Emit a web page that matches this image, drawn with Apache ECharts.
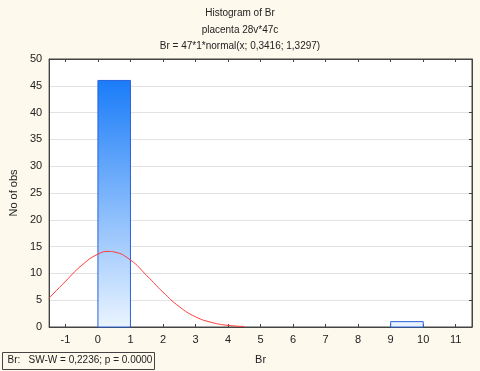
<!DOCTYPE html>
<html>
<head>
<meta charset="utf-8">
<script src="https://cdn.jsdelivr.net/npm/echarts@6/dist/echarts.min.js"></script>
<style>
  html, body { margin: 0; padding: 0; background: #fdf9ec; }
  #main { width: 480px; height: 371px; }
</style>
</head>
<body>
<div id="main"></div>
<script>
// histogram bins: [from, to, count]
const binFrom = [0, 9];
const binTo = [1, 10];
const binCount = [46, 1];

// fitted normal curve
const curveX = [-1.5, -1, -0.5, 0, 0.34, 0.5, 1, 1.5, 2, 2.5, 3, 3.5, 4, 4.5];
const curveY = [5.4, 8.5, 11.5, 13.6, 14.1, 14.0, 12.5, 9.6, 6.5, 3.8, 1.9, 0.85, 0.3, 0.1];

const titleLines = ['Histogram of Br', 'placenta 28v*47c', 'Br = 47*1*normal(x; 0,3416; 1,3297)'];

const font = 'Liberation Sans, Arial, sans-serif';
let myChart = echarts.init(document.getElementById('main'));

const bins = binFrom.map((f, i) => [f, binTo[i], binCount[i]]);
const curve = curveX.map((x, i) => [x, curveY[i]]);

const barFill = new echarts.graphic.LinearGradient(0, 80, 0, 327, [
  { offset: 0, color: '#1a7cf8' },
  { offset: 1, color: '#eaf4ff' }
], true);

const intLabel = v => (Math.abs(v - Math.round(v)) < 1e-6 ? String(Math.round(v)) : '');

let option = {
  backgroundColor: '#fdf9ec',
  animation: false,
  title: {
    text: titleLines.join('\n'),
    left: 'center',
    top: 0,
    textStyle: { fontFamily: font, fontSize: 10, fontWeight: 'normal', color: '#222', lineHeight: 16.5 }
  },
  grid: {
    left: 38, right: 8, top: 59, bottom: 44,
    show: true, backgroundColor: '#fff', borderColor: '#444', borderWidth: 1
  },
  xAxis: [
    {
      type: 'value', min: -1.5, max: 11.5, splitNumber: 13,
      name: 'Br', nameLocation: 'middle', nameGap: 27,
      nameTextStyle: { fontFamily: font, fontSize: 11, color: '#222' },
      axisLine: { onZero: false, lineStyle: { color: '#444' } },
      axisTick: { inside: true, length: 3, lineStyle: { color: '#444' } },
      axisLabel: { formatter: intLabel, showMinLabel: false, showMaxLabel: false, fontFamily: font, fontSize: 11, color: '#222', margin: 7 },
      splitLine: { show: false }
    },
    {
      type: 'value', position: 'top', min: -1.5, max: 11.5, splitNumber: 13,
      axisLine: { onZero: false, lineStyle: { color: '#444' } },
      axisTick: { inside: true, length: 3, lineStyle: { color: '#444' } },
      axisLabel: { show: false },
      splitLine: { show: false }
    }
  ],
  yAxis: [
    {
      type: 'value', min: 0, max: 50, interval: 5,
      name: 'No of obs', nameLocation: 'middle', nameGap: 24,
      nameTextStyle: { fontFamily: font, fontSize: 11, color: '#222' },
      axisLine: { show: true, onZero: false, lineStyle: { color: '#444' } },
      axisTick: { show: false },
      axisLabel: { fontFamily: font, fontSize: 11, color: '#222', margin: 7 },
      splitLine: { lineStyle: { color: '#e2e2e2', width: 1 } }
    },
    {
      type: 'value', position: 'right', min: 0, max: 50, interval: 5,
      axisLine: { show: true, onZero: false, lineStyle: { color: '#444' } },
      axisTick: { show: true, inside: true, length: 3, lineStyle: { color: '#444' } },
      axisLabel: { show: false },
      splitLine: { show: false }
    }
  ],
  series: [
    {
      type: 'custom',
      data: bins,
      renderItem: function (params, api) {
        const p0 = api.coord([api.value(0), api.value(2)]);
        const p1 = api.coord([api.value(1), 0]);
        return {
          type: 'rect',
          shape: { x: p0[0], y: p0[1], width: p1[0] - p0[0], height: p1[1] - p0[1] },
          style: { fill: barFill, stroke: '#2a62d8', lineWidth: 1 }
        };
      },
      z: 2
    },
    {
      type: 'line',
      data: curve,
      smooth: true,
      showSymbol: false,
      lineStyle: { color: '#ff3b3b', width: 1 },
      z: 3
    }
  ],
  graphic: [
    {
      type: 'group', left: 2, top: 352,
      children: [
        { type: 'rect', shape: { x: 0, y: 0, width: 152, height: 17 }, style: { fill: '#fdf9ec', stroke: '#444', lineWidth: 1 } },
        { type: 'text', x: 5, y: 3, style: { text: 'Br:   SW-W = 0,2236; p = 0.0000', font: '10px ' + font, fill: '#222' } }
      ]
    }
  ]
};

myChart.setOption(option);
</script>
</body>
</html>
